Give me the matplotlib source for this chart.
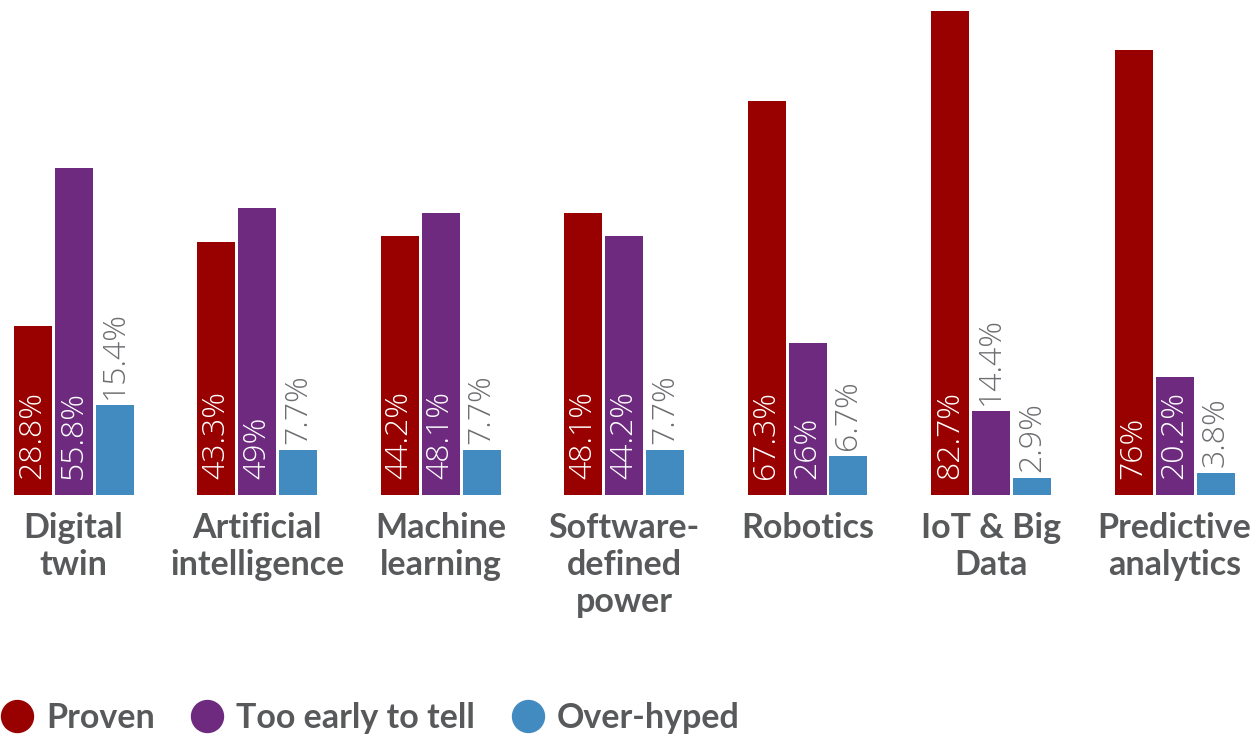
import numpy as np
import matplotlib
matplotlib.use("Agg")
import matplotlib.pyplot as plt
from matplotlib.lines import Line2D

# survey results, percent of respondents
categories = ["Digital\ntwin", "Artificial\nintelligence", "Machine\nlearning",
              "Software-\ndefined\npower", "Robotics", "IoT & Big\nData",
              "Predictive\nanalytics"]
proven = [28.8, 43.3, 44.2, 48.1, 67.3, 82.7, 76]
too_early = [55.8, 49, 48.1, 44.2, 26, 14.4, 20.2]
over_hyped = [15.4, 7.7, 7.7, 7.7, 6.7, 2.9, 3.8]
labels = ["Proven", "Too early to tell", "Over-hyped"]
colors = ["#990000", "#6d2a7f", "#428bc1"]

text_gray = "#58595b"
value_gray = "#6d6e71"

W, H = 1252, 736
fig = plt.figure(figsize=(W / 100, H / 100), dpi=100)
base_px = 495
ax = fig.add_axes([0, 1 - base_px / H, 1, base_px / H])
px_per_unit = (base_px - 11) / 82.7
ax.set_ylim(0, base_px / px_per_unit)
group = 183.5
ax.set_xlim(-73.5 / group, (W - 73.5) / group)
ax.axis("off")

x = np.arange(len(categories))
width = 38 / group
step = 41 / group

val_font = {"family": "Open Sans", "weight": "light", "fontsize": 23}

for k, vals in enumerate([proven, too_early, over_hyped]):
    xs = x + (k - 1) * step
    ax.bar(xs, vals, width=width, color=colors[k])
    for xi, v in zip(xs, vals):
        txt = f"{v:g}%"
        if v >= 20:
            ax.text(xi, 16 / px_per_unit, txt, rotation=90, ha="center", va="bottom",
                    color="white", **val_font)
        else:
            ax.text(xi, v + 6 / px_per_unit, txt, rotation=90, ha="center", va="bottom",
                    color=value_gray, **val_font)

for xi, name in zip(x, categories):
    ax.text(xi, -17 / px_per_unit, name, ha="center", va="top", color=text_gray,
            fontsize=24.5, family="Lato", weight="bold", linespacing=1.2,
            clip_on=False)

handles = [Line2D([], [], marker="o", linestyle="", markersize=23,
                  markerfacecolor=c, markeredgecolor=c) for c in colors]
fig.legend(handles, labels, loc="center left", bbox_to_anchor=(0.0, 1 - 718 / H),
           ncol=3, frameon=False, borderpad=0, borderaxespad=0,
           handletextpad=0.35, columnspacing=1.05, handlelength=1.0,
           prop={"family": "Lato", "weight": "bold", "size": 24.5},
           labelcolor=text_gray)

fig.savefig("out.png", dpi=100)
